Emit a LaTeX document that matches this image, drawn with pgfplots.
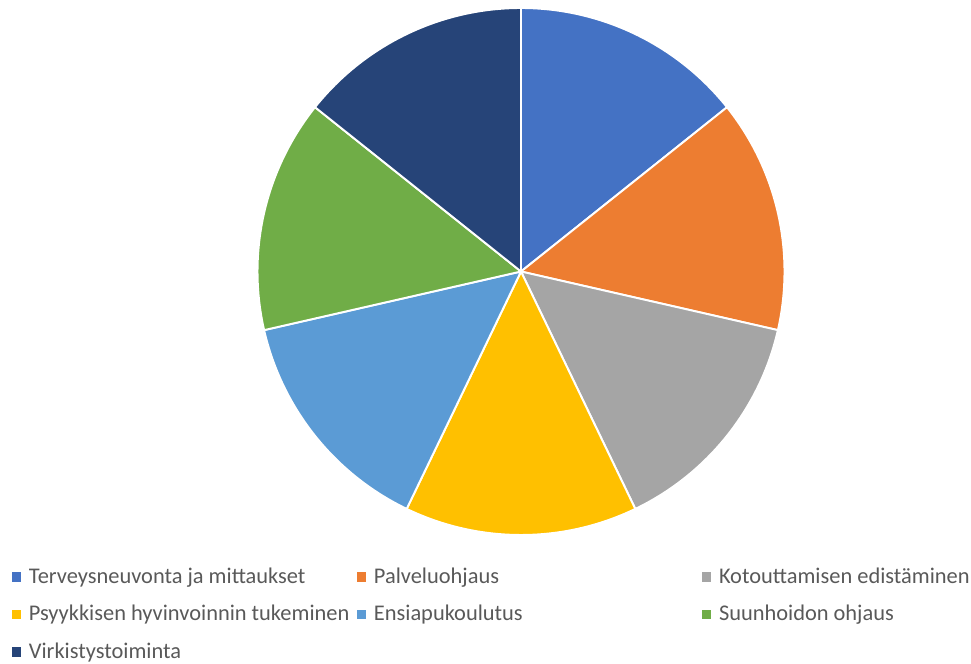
\documentclass[border=0pt]{standalone}
\usepackage{pgfplots}
\pgfplotsset{compat=1.18}
\usepackage{pgfplotstable}
\usepackage{fontspec}
\setmainfont{Carlito}
\definecolor{c1}{HTML}{4472C4}
\definecolor{c2}{HTML}{ED7D31}
\definecolor{c3}{HTML}{A5A5A5}
\definecolor{c4}{HTML}{FFC000}
\definecolor{c5}{HTML}{5B9BD5}
\definecolor{c6}{HTML}{70AD47}
\definecolor{c7}{HTML}{264478}
\definecolor{legtext}{HTML}{595959}
\pgfplotstableread[col sep=comma]{
label,value
Terveysneuvonta ja mittaukset,1
Palveluohjaus,1
Kotouttamisen edistäminen,1
Psyykkisen hyvinvoinnin tukeminen,1
Ensiapukoulutus,1
Suunhoidon ohjaus,1
Virkistystoiminta,1
}\piedata
\begin{document}
\begin{tikzpicture}
\path[use as bounding box] (0,0) rectangle (19.42cm,-13.28cm);
\pgfplotstablegetrowsof{\piedata}
\pgfmathtruncatemacro{\nrows}{\pgfplotsretval-1}
\gdef\total{0}
\foreach \i in {0,...,\nrows}{
  \pgfplotstablegetelem{\i}{value}\of\piedata
  \pgfmathsetmacro\t{\total+\pgfplotsretval}
  \xdef\total{\t}
}
\begin{axis}[at={(10.42cm,-5.43cm)}, anchor=center, width=10.54cm, height=10.54cm,
  scale only axis, xmin=-1, xmax=1, ymin=-1, ymax=1, hide axis, clip=false]
\gdef\cum{0}
\foreach \i [count=\k] in {0,...,\nrows}{
  \pgfplotstablegetelem{\i}{value}\of\piedata
  \pgfmathsetmacro\aA{90-360*\cum/\total}
  \pgfmathsetmacro\newcum{\cum+\pgfplotsretval}
  \pgfmathsetmacro\aB{90-360*\newcum/\total}
  \xdef\cum{\newcum}
  \edef\temp{\noexpand\filldraw[fill=c\k, draw=white, line width=1.1pt, line join=round] (axis cs:0,0) -- (axis cs:{cos(\aA)},{sin(\aA)}) arc[start angle=\aA, end angle=\aB, radius=5.27cm] -- cycle;}
  \temp
}
\end{axis}
% legend
\foreach \i/\mx/\by in {0/16.5/583, 1/361.5/583, 2/706.5/583, 3/16.5/620.5, 4/361.5/620.5, 5/706.5/620.5, 6/16.5/658}{
  \pgfplotstablegetelem{\i}{label}\of\piedata
  \pgfmathtruncatemacro\k{\i+1}
  \fill[c\k] ({\mx*0.02cm-0.095cm},{-(\by-6)*0.02cm-0.095cm}) rectangle ++(0.19cm,0.19cm);
  \node[anchor=base west, inner sep=0pt, text=legtext, font=\fontsize{12.75pt}{14pt}\selectfont] at ({(\mx+12)*0.02cm},{-\by*0.02cm}) {\pgfplotsretval};
}
\end{tikzpicture}
\end{document}
